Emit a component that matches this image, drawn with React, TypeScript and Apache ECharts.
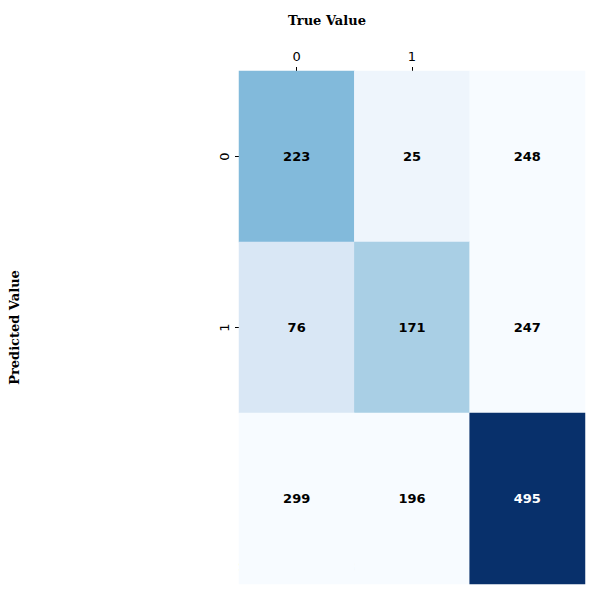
import { useEffect, useRef } from "react";
import * as echarts from "echarts";

const xLabels = ["0", "1", ""];
const yLabels = ["0", "1", ""];
// [col, row, value]
const cells: [number, number, number][] = [
  [0, 0, 223], [1, 0, 25], [2, 0, 248],
  [0, 1, 76], [1, 1, 171], [2, 1, 247],
  [0, 2, 299], [1, 2, 196], [2, 2, 495],
];
const cellColors = [
  "#82badb", "#eef5fc", "#f7fbff",
  "#d9e7f5", "#a9cfe5", "#f7fbff",
  "#f7fbff", "#f7fbff", "#08306b",
];
const notes: [number, number, string][] = [
  [2, 0, "Precision: 89.9%"],
  [0, 2, "Recall/TPR/\nSensitivity: 74.6%"],
  [1, 2, "TNR/\nSpecificity: 87.2%"],
  [2, 2, "F1 Score: 81.5%"],
];

export default function App() {
  const ref = useRef<HTMLDivElement>(null);
  useEffect(() => {
    if (!ref.current) return;
    const chart = echarts.init(ref.current, null, { renderer: "svg" });
    const tickStyle = {
      show: true, alignWithLabel: true, length: 4,
      lineStyle: { color: "#000" },
      interval: (i: number) => i < 2,
    };
    chart.setOption({
      animation: false,
      grid: { left: 74, right: 15, top: 71, bottom: 16 },
      visualMap: {
        show: false, type: "piecewise", dimension: 3,
        pieces: cellColors.map((c, i) => ({ value: i, color: c })),
      },
      xAxis: {
        type: "category", position: "top", data: xLabels,
        name: "True Value", nameLocation: "middle", nameGap: 44,
        nameTextStyle: { fontFamily: "DejaVu Serif", fontWeight: "bold", fontSize: 13, color: "#000", padding: [0, 170, 0, 0] },
        axisLine: { show: false },
        axisTick: tickStyle,
        axisLabel: { color: "#000", fontSize: 13, fontFamily: "DejaVu Sans", margin: 8 },
      },
      yAxis: {
        type: "category", inverse: true, data: yLabels,
        name: "Predicted Value", nameLocation: "middle", nameGap: 48,
        nameTextStyle: { fontFamily: "DejaVu Serif", fontWeight: "bold", fontSize: 13, color: "#000", padding: [0, 0, 170, 0] },
        axisLine: { show: false },
        axisTick: tickStyle,
        axisLabel: { color: "#000", fontSize: 13, fontFamily: "DejaVu Sans", rotate: 90, margin: 8 },
      },
      series: [{
        type: "heatmap",
        data: cells.map((c, i) => ({
          value: [c[0], c[1], c[2], i],
          label: { color: c[2] === 495 ? "#fff" : "#000" },
        })),
        label: {
          show: true, fontWeight: "bold", fontSize: 13, fontFamily: "DejaVu Sans",
          formatter: (p: any) => String(p.value[2]),
        },
      }],
    });
    const graphics = notes.map(([c, r, t]) => {
      const [cx, cy] = chart.convertToPixel({ seriesIndex: 0 }, [c, r]) as number[];
      const multi = t.includes("\n");
      return {
        type: "text", x: cx, y: multi ? cy + 60 : cy + 68,
        style: {
          text: t, fill: r === 2 && c === 2 ? "#fff" : "#000",
          font: "13px DejaVu Sans", align: "center", verticalAlign: "middle",
          lineHeight: 15,
        },
      };
    });
    chart.setOption({ graphic: graphics });
    return () => chart.dispose();
  }, []);
  return <div ref={ref} style={{ width: 600, height: 600, margin: -8 }} />;
}
